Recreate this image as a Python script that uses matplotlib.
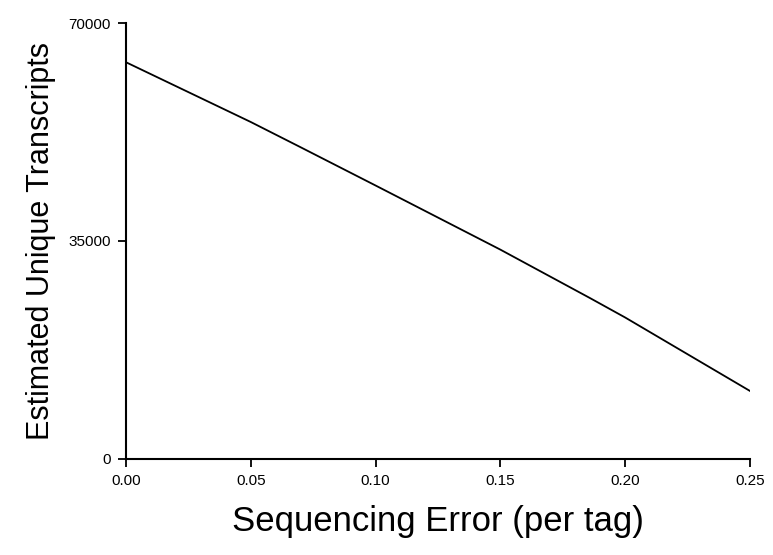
import matplotlib
matplotlib.use("Agg")
import matplotlib.pyplot as plt

plt.rcParams['font.family'] = ['Liberation Sans', 'DejaVu Sans']

seq_error = [0.00, 0.05, 0.0697, 0.10, 0.15, 0.186, 0.20, 0.25]
unique_transcripts = [63700, 54100, 50100, 43900, 33600, 25800, 22700, 10900]
x_ticks = [0.00, 0.05, 0.10, 0.15, 0.20, 0.25]
x_tick_labels = ["0.00", "0.05", "0.10", "0.15", "0.20", "0.25"]
y_ticks = [0, 35000, 70000]
y_tick_labels = ["0", "35000", "70000"]

fig = plt.figure(figsize=(7.73, 5.55), dpi=100)
ax = fig.add_axes([0.163, 0.1735, 0.807, 0.785])
ax.plot(seq_error, unique_transcripts, color='black', lw=1.3)
ax.set_xlim(0, 0.25)
ax.set_ylim(0, 70000)
ax.set_xticks(x_ticks)
ax.set_xticklabels(x_tick_labels)
ax.set_yticks(y_ticks)
ax.set_yticklabels(y_tick_labels)
for s in ['top', 'right']:
    ax.spines[s].set_visible(False)
for s in ['left', 'bottom']:
    ax.spines[s].set_linewidth(1.5)
ax.tick_params(axis='both', direction='out', length=6, width=1.3, labelsize=11, pad=5)
ax.set_xlabel("Sequencing Error (per tag)", fontsize=25, labelpad=12)
ax.set_ylabel("Estimated Unique Transcripts", fontsize=22, labelpad=9)
fig.savefig("out.png", dpi=100)
